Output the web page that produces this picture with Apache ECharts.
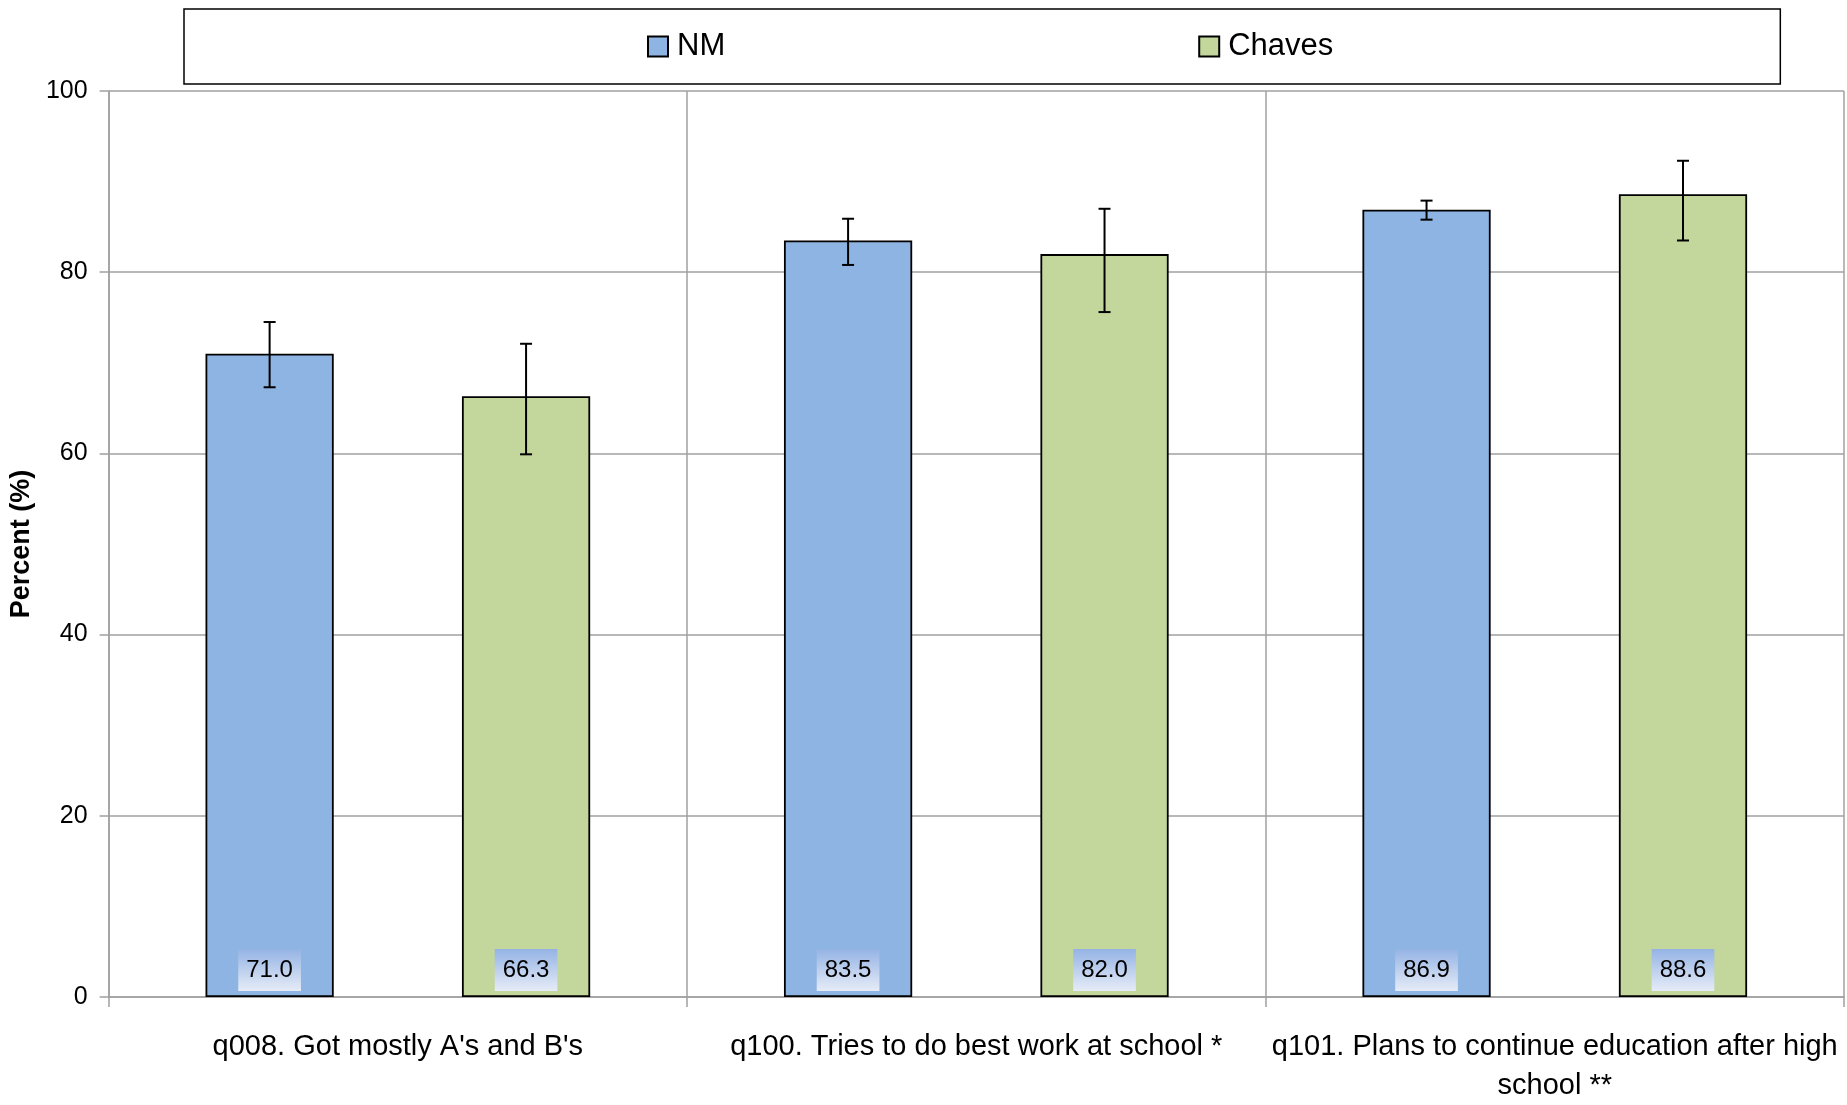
<!DOCTYPE html>
<html>
<head>
<meta charset="utf-8">
<script src="https://cdn.jsdelivr.net/npm/echarts@6/dist/echarts.min.js"></script>
<style>
html,body{margin:0;padding:0;background:#fff;}
#chart{width:1847px;height:1105px;}
</style>
</head>
<body>
<div id="chart"></div>
<script>
// ---- data ----
const categories = [
  "q008. Got mostly A's and B's",
  "q100. Tries to do best work at school *",
  "q101. Plans to continue education after high\nschool **"
];
const seriesNames = ["NM", "Chaves"];
const nmValues = [71.0, 83.5, 86.9];
const chavesValues = [66.3, 82.0, 88.6];
const nmLow = [67.3, 80.8, 85.8];
const nmHigh = [74.5, 85.9, 87.9];
const chavesLow = [59.9, 75.6, 83.5];
const chavesHigh = [72.1, 87.0, 92.3];
const yTicks = [0, 20, 40, 60, 80, 100];

const FONT = "Liberation Sans";
const CAT_GAP = 0.335;

function errData(lo, hi) {
  return lo.map((l, i) => [i, l, hi[i]]);
}
function errRender(sign) {
  return function (params, api) {
    const ci = api.value(0);
    const band = api.size([1, 0])[0];
    const off = sign * band * (1 - CAT_GAP) / 3;
    const lo = api.coord([ci, api.value(1)]);
    const hi = api.coord([ci, api.value(2)]);
    const x = lo[0] + off;
    const cap = 6;
    const st = { stroke: '#000', lineWidth: 2 };
    return {
      type: 'group',
      children: [
        { type: 'line', shape: { x1: x, y1: lo[1], x2: x, y2: hi[1] }, style: st },
        { type: 'line', shape: { x1: x - cap, y1: hi[1], x2: x + cap, y2: hi[1] }, style: st },
        { type: 'line', shape: { x1: x - cap, y1: lo[1], x2: x + cap, y2: lo[1] }, style: st }
      ]
    };
  };
}

const labelBg = {
  type: 'linear', x: 0, y: 0, x2: 0, y2: 1,
  colorStops: [{ offset: 0, color: '#94b3e4' }, { offset: 1, color: '#e6ecf7' }]
};
const dataLabel = {
  show: true,
  position: 'insideBottom',
  distance: 6,
  formatter: p => p.value.toFixed(1),
  fontFamily: FONT,
  fontSize: 24,
  color: '#000',
  backgroundColor: labelBg,
  padding: [9, 8, 9, 8]
};

const chart = echarts.init(document.getElementById('chart'), null, { renderer: 'canvas' });
chart.setOption({
  animation: false,
  backgroundColor: '#fff',
  textStyle: { fontFamily: FONT },
  legend: {
    data: seriesNames,
    left: 184,
    top: 9,
    padding: [22, 447, 22, 463],
    itemGap: 473,
    itemWidth: 20,
    itemHeight: 20,
    borderColor: '#000',
    borderWidth: 1.5,
    icon: 'rect',
    textStyle: { fontFamily: FONT, fontSize: 31, color: '#000', padding: [0, 0, 0, 4] }
  },
  grid: { left: 107, right: 3, top: 91, bottom: 102.5, containLabel: false },
  xAxis: {
    type: 'category',
    data: categories,
    axisLine: { show: true, lineStyle: { color: '#a0a0a0', width: 1.5 } },
    axisTick: { show: true, interval: 0, length: 10, lineStyle: { color: '#a0a0a0', width: 1.5 } },
    splitLine: { show: true, interval: 0, lineStyle: { color: '#a0a0a0', width: 1.5 } },
    axisLabel: {
      interval: 0, margin: 30, fontFamily: FONT, fontSize: 29, lineHeight: 39, color: '#000'
    }
  },
  yAxis: {
    type: 'value',
    min: yTicks[0],
    max: yTicks[yTicks.length - 1],
    interval: yTicks[1] - yTicks[0],
    name: 'Percent (%)',
    nameLocation: 'middle',
    nameGap: 58,
    nameTextStyle: { fontFamily: FONT, fontSize: 27, fontWeight: 'bold', color: '#000' },
    axisLine: { show: true, lineStyle: { color: '#a0a0a0', width: 1.5 } },
    axisTick: { show: true, length: 9, lineStyle: { color: '#a0a0a0', width: 1.5 } },
    splitLine: { show: true, lineStyle: { color: '#a0a0a0', width: 1.5 } },
    axisLabel: { margin: 21, fontFamily: FONT, fontSize: 25, color: '#000' }
  },
  series: [
    {
      name: seriesNames[0], type: 'bar', data: nmValues,
      barGap: '100%', barCategoryGap: (CAT_GAP * 100) + '%',
      itemStyle: { color: '#8EB4E3', borderColor: '#000', borderWidth: 1.8 },
      label: dataLabel
    },
    {
      name: seriesNames[1], type: 'bar', data: chavesValues,
      barGap: '100%', barCategoryGap: (CAT_GAP * 100) + '%',
      itemStyle: { color: '#C3D69B', borderColor: '#000', borderWidth: 1.8 },
      label: dataLabel
    },
    {
      name: 'NM error', type: 'custom', data: errData(nmLow, nmHigh),
      encode: { x: 0, y: [1, 2] }, renderItem: errRender(-1), z: 5, silent: true
    },
    {
      name: 'Chaves error', type: 'custom', data: errData(chavesLow, chavesHigh),
      encode: { x: 0, y: [1, 2] }, renderItem: errRender(1), z: 5, silent: true
    }
  ]
});
</script>
</body>
</html>
